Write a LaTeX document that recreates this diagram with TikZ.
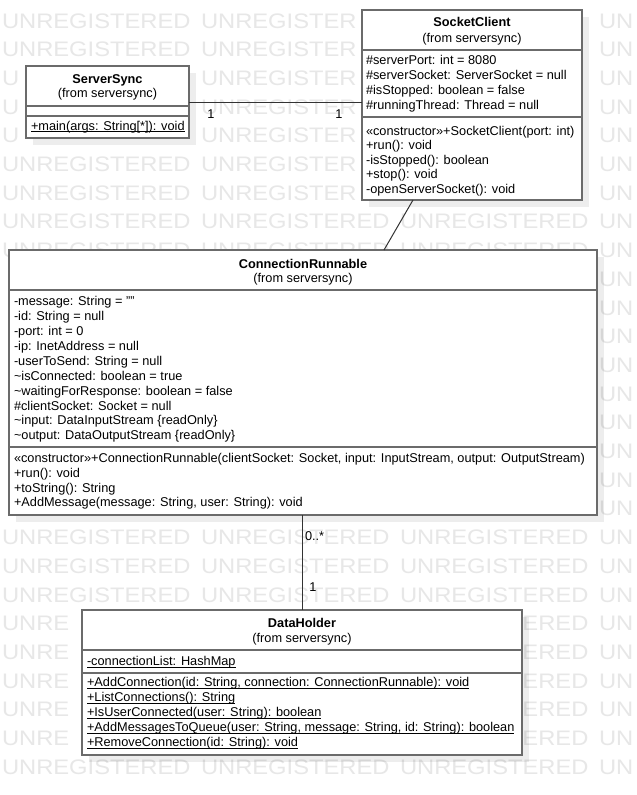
\documentclass[tikz,border=0pt]{standalone}
\usepackage{fontspec}
\setmainfont{Liberation Sans}
\usetikzlibrary{calc,shadows}
\definecolor{wm}{gray}{0.905}
\definecolor{bord}{rgb}{0.42,0.42,0.42}
\definecolor{conn}{rgb}{0.2,0.2,0.2}
\newcommand\myul[1]{\setbox0\hbox{#1}\rlap{\rule[-2.2pt]{\wd0}{0.75pt}}\box0}
\newcommand\classlines[5]{%
  \foreach \t [count=\i from 0] in {#5} {\node[txt] (#1-\i) at (#2, #3+#4*\i) {\t};}}
\newcommand\wmword[1]{\scalebox{1.13}[1]{#1}}
\begin{document}
\begin{tikzpicture}[x=1pt,y=-1pt,
  every node/.style={inner sep=0pt, outer sep=0pt},
  txt/.style={anchor=base west, font=\fontsize{12.75}{15}\selectfont},
  ttl/.style={anchor=base, font=\fontsize{12.75}{15}\selectfont\bfseries},
  sub/.style={anchor=base, font=\fontsize{12.75}{15}\selectfont},
  lbl/.style={anchor=base, font=\fontsize{12.75}{15}\selectfont},
  cls/.style={draw=bord, line width=1.5pt, fill=white, rectangle, anchor=north west,
    drop shadow={shadow xshift=7pt, shadow yshift=-7pt, fill=black, opacity=0.07}},
  divl/.style={draw=bord, line width=1.5pt},
  assoc/.style={draw=conn, line width=1pt},
  wmtxt/.style={text=wm, font=\fontsize{21}{21}\selectfont, anchor=base west},
]
\useasboundingbox[fill=white] (0,0) rectangle (637,795);
% watermark (only the parts that show)
\foreach \r in {7,8,18,19,20,26} {
  \foreach \c in {0,1,2} {
    \node[wmtxt] (wm-\r-\c) at (2+199*\c, 28+28.7*\r) {\wmword{UNREGISTERED}};
  }
}
\foreach \r in {0,...,26} {
  \node[wmtxt] (wm-\r-3) at (599, 28+28.7*\r) {\wmword{UN}};
}
\foreach \r in {0,1,5,6} {
  \node[wmtxt] (wm-\r-0) at (2, 28+28.7*\r) {\wmword{UNREGISTERED}};
}
\foreach \r in {2,3,4} {
  \node[wmtxt] (wm-\r-0) at (2, 28+28.7*\r) {\wmword{U}};
}
\foreach \r in {0,...,6} {
  \node[wmtxt] (wm-\r-1) at (201, 28+28.7*\r) {\wmword{UNREGISTER}};
}
\foreach \r in {21,...,25} {
  \node[wmtxt] (wm-\r-0) at (2, 28+28.7*\r) {\wmword{UNRE}};
  \node[wmtxt, anchor=base east] (wm-\r-2) at (588.4, 28+28.7*\r) {\wmword{ERED}};
}

% ServerSync
\node[cls, minimum width=163pt, minimum height=72pt] (ss) at (26,66) {};
\draw[divl] ($(ss.north west)+(0,40)$) -- ($(ss.north east)+(0,40)$);
\draw[divl] ($(ss.north west)+(0,50)$) -- ($(ss.north east)+(0,50)$);
\node[ttl] (ss-t) at (107.5,83) {ServerSync};
\node[sub] (ss-s) at (107.5,97) {(from serversync)};
\node[txt] (ss-m) at (31,130) {\myul{+main(args: String[*]): void}};

% SocketClient
\node[cls, minimum width=220pt, minimum height=190pt] (sc) at (362,10) {};
\draw[divl] ($(sc.north west)+(0,40)$) -- ($(sc.north east)+(0,40)$);
\draw[divl] ($(sc.north west)+(0,107)$) -- ($(sc.north east)+(0,107)$);
\node[ttl] (sc-t) at (472,27) {SocketClient};
\node[sub] (sc-s) at (472,42) {(from serversync)};
\classlines{sca}{366}{64.3}{14.9}{\#serverPort: int = 8080, \#serverSocket: ServerSocket = null, \#isStopped: boolean = false, \#runningThread: Thread = null}
\classlines{scm}{366}{135}{14.6}{«constructor»+SocketClient(port: int), +run(): void, -isStopped(): boolean, +stop(): void, -openServerSocket(): void}

% ConnectionRunnable
\node[cls, minimum width=588pt, minimum height=265pt] (cr) at (9,250) {};
\draw[divl] ($(cr.north west)+(0,40)$) -- ($(cr.north east)+(0,40)$);
\draw[divl] ($(cr.north west)+(0,197)$) -- ($(cr.north east)+(0,197)$);
\node[ttl] (cr-t) at (303,268) {ConnectionRunnable};
\node[sub] (cr-s) at (303,282) {(from serversync)};
\classlines{cra}{14}{305.7}{14.9}{-message: String = "", -id: String = null, -port: int = 0, -ip: InetAddress = null, -userToSend: String = null, \textasciitilde isConnected: boolean = true, \textasciitilde waitingForResponse: boolean = false, \#clientSocket: Socket = null, \textasciitilde input: DataInputStream \{readOnly\}, \textasciitilde output: DataOutputStream \{readOnly\}}
\classlines{crm}{14}{462.7}{14.7}{{«constructor»+ConnectionRunnable(clientSocket: Socket, input: InputStream, output: OutputStream)}, +run(): void, +toString(): String, {+AddMessage(message: String, user: String): void}}

% DataHolder
\node[cls, minimum width=440pt, minimum height=145pt] (dh) at (82,610) {};
\draw[divl] ($(dh.north west)+(0,40)$) -- ($(dh.north east)+(0,40)$);
\draw[divl] ($(dh.north west)+(0,63)$) -- ($(dh.north east)+(0,63)$);
\node[ttl] (dh-t) at (302,627) {DataHolder};
\node[sub] (dh-s) at (302,642) {(from serversync)};
\node[txt] (dh-a) at (87,665.7) {\myul{-connectionList: HashMap}};
\classlines{dhm}{87}{686.7}{15}{{\myul{+AddConnection(id: String, connection: ConnectionRunnable): void}}, {\myul{+ListConnections(): String}}, {\myul{+IsUserConnected(user: String): boolean}}, {\myul{+AddMessagesToQueue(user: String, message: String, id: String): boolean}}, {\myul{+RemoveConnection(id: String): void}}}

% connectors
\draw[assoc] (ss.east) -- (ss.east -| sc.west);
\draw[assoc] ($(sc.south west)+(51,0)$) -- ($(cr.north west)+(375,0)$);
\draw[assoc] ($(cr.south west)+(293,0)$) -- ($(dh.north west)+(220,0)$);

% multiplicities
\node[lbl] (m1) at (211,118.5) {1};
\node[lbl] (m2) at (339,118.5) {1};
\node[txt] (m3) at (305,540) {0..*};
\node[lbl] (m4) at (313,591) {1};
\end{tikzpicture}
\end{document}
